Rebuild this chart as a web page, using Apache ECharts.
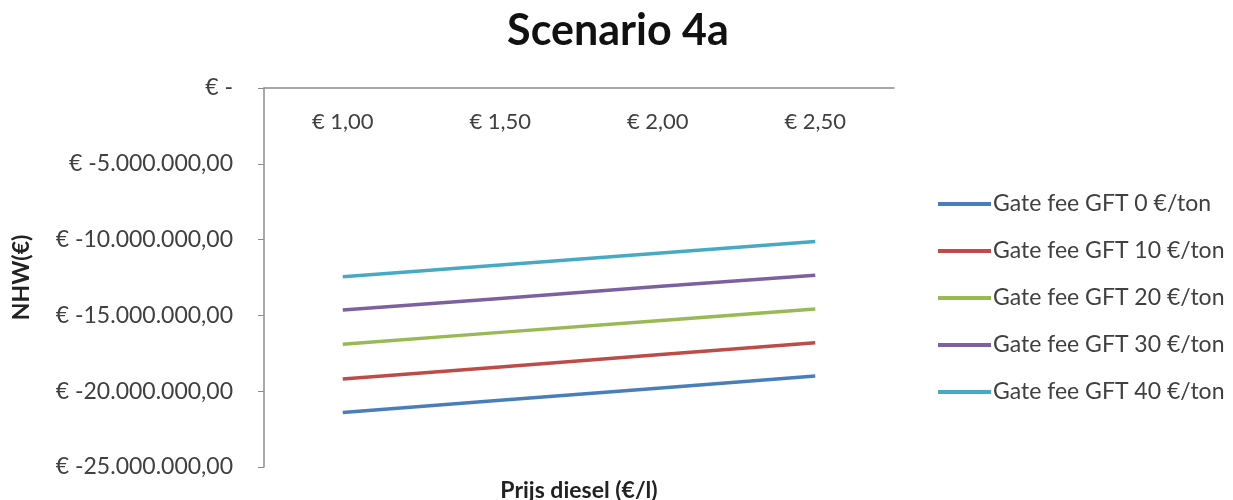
<!DOCTYPE html>
<html>
<head>
<meta charset="utf-8">
<script src="https://cdn.jsdelivr.net/npm/echarts@6/dist/echarts.min.js"></script>
<style>
html,body{margin:0;padding:0;background:#fff;}
#c{width:1233px;height:500px;}
</style>
</head>
<body>
<div id="c"></div>
<script>
const categories = ['€ 1,00', '€ 1,50', '€ 2,00', '€ 2,50'];
const seriesNames = ['Gate fee GFT 0 €/ton', 'Gate fee GFT 10 €/ton', 'Gate fee GFT 20 €/ton', 'Gate fee GFT 30 €/ton', 'Gate fee GFT 40 €/ton'];
const gft0  = [-21400000, -20600000, -19800000, -19000000];
const gft10 = [-19200000, -18400000, -17600000, -16800000];
const gft20 = [-16900000, -16120000, -15350000, -14580000];
const gft30 = [-14650000, -13880000, -13100000, -12350000];
const gft40 = [-12450000, -11680000, -10900000, -10130000];
const colors = ['#4A7EBB', '#BE4B48', '#98B954', '#7D60A0', '#46AAC5'];

function fmt(v) {
  if (v === 0) return '€ -';
  const neg = v < 0;
  const s = Math.abs(Math.round(v)).toString().replace(/\B(?=(\d{3})+(?!\d))/g, '.');
  return '€ ' + (neg ? '-' : '') + s + ',00';
}

const chart = echarts.init(document.getElementById('c'));
const dataSets = [gft0, gft10, gft20, gft30, gft40];
const FONT = 'Lato, "Noto Sans", sans-serif';
chart.setOption({
  animation: false,
  backgroundColor: '#fff',
  title: [{
    text: 'Scenario 4a',
    left: 613,
    textAlign: 'center',
    top: 5,
    textStyle: { fontFamily: FONT, fontSize: 43, fontWeight: 'bold', color: '#111' }
  }, {
    text: 'Prijs diesel (€/l)',
    left: 574,
    textAlign: 'center',
    top: 474,
    textStyle: { fontFamily: FONT, fontSize: 23, fontWeight: 'bold', color: '#222' }
  }],
  legend: {
    orient: 'vertical',
    left: 933,
    top: 187,
    itemWidth: 53,
    itemHeight: 4,
    itemGap: 23,
    icon: 'rect',
    textStyle: { fontFamily: FONT, fontSize: 23, color: '#404040', lineHeight: 24, padding: [0, 0, 0, -3] },
    data: seriesNames
  },
  grid: { left: 264, right: 339, top: 88, bottom: 33, containLabel: false, outerBoundsMode: 'none' },
  xAxis: {
    type: 'category',
    position: 'top',
    data: categories,
    boundaryGap: true,
    axisLine: { show: true, lineStyle: { color: '#8c8c8c', width: 1.5 } },
    axisTick: { show: false },
    axisLabel: { inside: true, margin: 23, fontFamily: FONT, fontSize: 22, color: '#404040' },
    splitLine: { show: false }
  },
  yAxis: {
    type: 'value',
    min: -25000000,
    max: 0,
    interval: 5000000,
    name: 'NHW(€)',
    nameLocation: 'middle',
    nameGap: 231,
    nameTextStyle: { fontFamily: FONT, fontSize: 23, fontWeight: 'bold', color: '#222' },
    axisLine: { show: true, lineStyle: { color: '#8c8c8c', width: 1.5 } },
    axisTick: { show: true, length: 6, lineStyle: { color: '#8c8c8c' } },
    axisLabel: { margin: 31, fontFamily: FONT, fontSize: 23, color: '#404040', formatter: fmt },
    splitLine: { show: false }
  },
  series: dataSets.map((d, i) => ({
    name: seriesNames[i],
    type: 'line',
    data: d,
    symbol: 'none',
    color: colors[i],
    lineStyle: { width: 3.5, color: colors[i] }
  }))
});
</script>
</body>
</html>
